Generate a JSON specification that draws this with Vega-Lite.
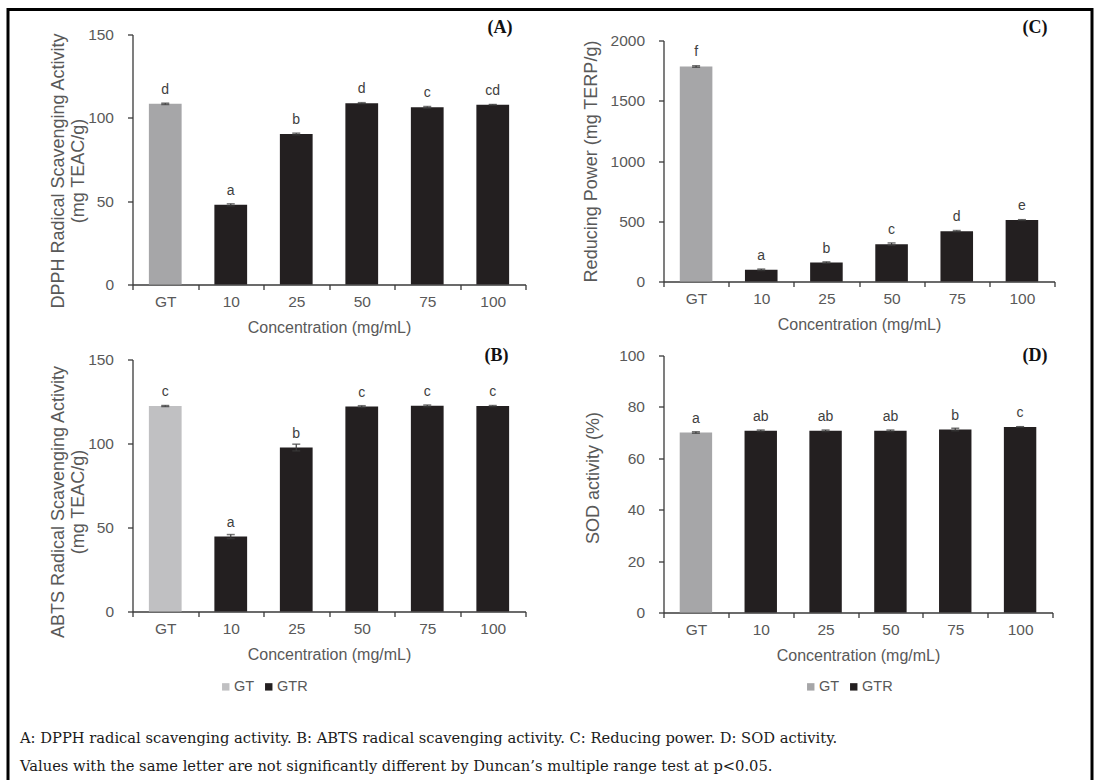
{
"$schema": "https://vega.github.io/schema/vega-lite/v6.json",
"background": "white",
"padding": {"left": 6, "top": 7.5, "right": 0, "bottom": 0},
"config": {
 "font": "Liberation Sans",
 "view": {"stroke": null},
 "axis": {"grid": false, "domainColor": "#3a3a3a", "tickColor": "#3a3a3a", "domainWidth": 1.3, "tickWidth": 1.3, "tickSize": 5, "labelColor": "#595959", "titleColor": "#595959", "titleFontWeight": "normal", "labelFontSize": 15.5, "titleFontSize": 16},
 "legend": {"direction": "horizontal", "symbolType": "square", "symbolSize": 55, "symbolStrokeWidth": 0, "labelFontSize": 14.5, "labelColor": "#595959", "columnPadding": 7, "labelOffset": 1}
},
"datasets": {
 "dA": [
  {"c": "GT", "g": "GT", "v": 108.4, "e": 0.4, "l": "d"},
  {"c": "10", "g": "GTR", "v": 47.8, "e": 0.6, "l": "a"},
  {"c": "25", "g": "GTR", "v": 90.3, "e": 0.5, "l": "b"},
  {"c": "50", "g": "GTR", "v": 108.8, "e": 0.3, "l": "d"},
  {"c": "75", "g": "GTR", "v": 106.3, "e": 0.5, "l": "c"},
  {"c": "100", "g": "GTR", "v": 107.8, "e": 0.2, "l": "cd"}
 ],
 "dB": [
  {"c": "GT", "g": "GT", "v": 122.3, "e": 0.3, "l": "c"},
  {"c": "10", "g": "GTR", "v": 44.6, "e": 1.2, "l": "a"},
  {"c": "25", "g": "GTR", "v": 97.6, "e": 2.0, "l": "b"},
  {"c": "50", "g": "GTR", "v": 122.0, "e": 0.5, "l": "c"},
  {"c": "75", "g": "GTR", "v": 122.4, "e": 0.5, "l": "c"},
  {"c": "100", "g": "GTR", "v": 122.3, "e": 0.3, "l": "c"}
 ],
 "dC": [
  {"c": "GT", "g": "GT", "v": 1785, "e": 6, "l": "f"},
  {"c": "10", "g": "GTR", "v": 97, "e": 6, "l": "a"},
  {"c": "25", "g": "GTR", "v": 157, "e": 6, "l": "b"},
  {"c": "50", "g": "GTR", "v": 310, "e": 10, "l": "c"},
  {"c": "75", "g": "GTR", "v": 418, "e": 5, "l": "d"},
  {"c": "100", "g": "GTR", "v": 510, "e": 3, "l": "e"}
 ],
 "dD": [
  {"c": "GT", "g": "GT", "v": 70.0, "e": 0.3, "l": "a"},
  {"c": "10", "g": "GTR", "v": 70.7, "e": 0.3, "l": "ab"},
  {"c": "25", "g": "GTR", "v": 70.7, "e": 0.3, "l": "ab"},
  {"c": "50", "g": "GTR", "v": 70.7, "e": 0.3, "l": "ab"},
  {"c": "75", "g": "GTR", "v": 71.2, "e": 0.5, "l": "b"},
  {"c": "100", "g": "GTR", "v": 72.2, "e": 0.1, "l": "c"}
 ]
},
"columns": 1,
"align": "none",
"bounds": "flush",
"spacing": -749,
"resolve": {"scale": {"color": "independent"}, "legend": {"color": "independent"}},
"concat": [
 {
  "width": 1084, "height": 774,
  "view": {"stroke": "#000000", "strokeWidth": 3},
  "data": {"values": []},
  "mark": {"type": "text"},
  "encoding": {},
  "title": {
   "text": ["A: DPPH radical scavenging activity. B: ABTS radical scavenging activity. C: Reducing power. D: SOD activity.", "Values with the same letter are not significantly different by Duncan’s multiple range test at p<0.05."],
   "orient": "bottom", "anchor": "start", "frame": "group", "offset": -53, "dx": 12,
   "font": "DejaVu Serif", "fontSize": 14.7, "fontWeight": "normal", "color": "#1a1a1a", "lineHeight": 28
  }
 },
 {
  "bounds": "flush",
  "spacing": 123.5,
  "resolve": {"scale": {"color": "independent"}, "legend": {"color": "independent"}},
  "hconcat": [
   {"width": 1, "height": 1, "data": {"values": []}, "mark": {"type": "text"}, "encoding": {}},
   {
    "spacing": 55,
    "resolve": {"scale": {"color": "independent"}, "legend": {"color": "independent"}},
    "hconcat": [
     {
      "bounds": "flush",
      "spacing": 75,
      "resolve": {"scale": {"color": "independent"}, "legend": {"color": "independent"}},
      "vconcat": [
       {
        "width": 393, "height": 250,
        "title": {"text": "(A)", "anchor": "end", "frame": "group", "orient": "top", "offset": -9, "dx": -13, "font": "Liberation Serif", "fontWeight": "bold", "fontSize": 18, "color": "#111111"},
        "data": {"name": "dA"},
        "encoding": {
         "x": {"field": "c", "type": "nominal", "scale": {"domain": ["GT", "10", "25", "50", "75", "100"], "paddingInner": 0, "paddingOuter": 0},
               "axis": {"title": "Concentration (mg/mL)", "labelAngle": 0, "tickBand": "extent", "labelPadding": 5, "titlePadding": 9}},
         "y": {"field": "v", "type": "quantitative", "scale": {"domain": [0, 150], "nice": false},
               "axis": {"title": ["DPPH Radical Scavenging Activity", "(mg TEAC/g)"], "values": [0, 50, 100, 150], "format": "d", "labelPadding": 14, "titlePadding": 0, "titleFontSize": 18, "titleLineHeight": 20, "titleY": 136}}
        },
        "layer": [
         {"mark": {"type": "bar", "width": {"band": 0.5}},
          "encoding": {"color": {"field": "g", "type": "nominal", "scale": {"domain": ["GT", "GTR"], "range": ["#a6a6a8", "#231f20"]}, "legend": null}}},
         {"mark": {"type": "errorbar", "color": "#3a3a3a", "thickness": 1.2, "ticks": {"size": 8, "thickness": 1.5}},
          "encoding": {"yError": {"field": "e"}}},
         {"mark": {"type": "text", "baseline": "alphabetic", "dy": -10, "fontSize": 14, "color": "#404040"},
          "encoding": {"text": {"field": "l"}}}
        ]
       },
       {
        "width": 393, "height": 252,
        "title": {"text": "(B)", "anchor": "end", "frame": "group", "orient": "top", "offset": -12, "dx": -17, "font": "Liberation Serif", "fontWeight": "bold", "fontSize": 18, "color": "#111111"},
        "data": {"name": "dB"},
        "encoding": {
         "x": {"field": "c", "type": "nominal", "scale": {"domain": ["GT", "10", "25", "50", "75", "100"], "paddingInner": 0, "paddingOuter": 0},
               "axis": {"title": "Concentration (mg/mL)", "labelAngle": 0, "tickBand": "extent", "labelPadding": 5, "titlePadding": 9}},
         "y": {"field": "v", "type": "quantitative", "scale": {"domain": [0, 150], "nice": false},
               "axis": {"title": ["ABTS Radical Scavenging Activity", "(mg TEAC/g)"], "values": [0, 50, 100, 150], "format": "d", "labelPadding": 14, "titlePadding": 0, "titleFontSize": 18, "titleLineHeight": 20, "titleY": 142}}
        },
        "layer": [
         {"mark": {"type": "bar", "width": {"band": 0.5}},
          "encoding": {"color": {"field": "g", "type": "nominal", "scale": {"domain": ["GT", "GTR"], "range": ["#c0c0c2", "#231f20"]},
                                 "legend": {"orient": "none", "legendX": 86, "legendY": 320, "title": null, "direction": "horizontal"}}}},
         {"mark": {"type": "errorbar", "color": "#3a3a3a", "thickness": 1.2, "ticks": {"size": 8, "thickness": 1.5}},
          "encoding": {"yError": {"field": "e"}}},
         {"mark": {"type": "text", "baseline": "alphabetic", "dy": -10, "fontSize": 14, "color": "#404040"},
          "encoding": {"text": {"field": "l"}}}
        ]
       }
      ]
     },
     {
      "bounds": "flush",
      "spacing": 5,
      "resolve": {"scale": {"color": "independent"}, "legend": {"color": "independent"}},
      "vconcat": [
       {"width": 1, "height": 1, "data": {"values": []}, "mark": {"type": "text"}, "encoding": {}},
       {
        "bounds": "flush",
        "spacing": 74,
        "resolve": {"scale": {"color": "independent"}, "legend": {"color": "independent"}},
        "vconcat": [
         {
          "width": 391, "height": 241,
          "title": {"text": "(C)", "anchor": "end", "frame": "group", "orient": "top", "offset": -3, "dx": -7, "font": "Liberation Serif", "fontWeight": "bold", "fontSize": 18, "color": "#111111"},
          "data": {"name": "dC"},
          "encoding": {
           "x": {"field": "c", "type": "nominal", "scale": {"domain": ["GT", "10", "25", "50", "75", "100"], "paddingInner": 0, "paddingOuter": 0},
                 "axis": {"title": "Concentration (mg/mL)", "labelAngle": 0, "tickBand": "extent", "labelPadding": 5, "titlePadding": 9}},
           "y": {"field": "v", "type": "quantitative", "scale": {"domain": [0, 2000], "nice": false},
                 "axis": {"title": "Reducing Power (mg TERP/g)", "values": [0, 500, 1000, 1500, 2000], "format": "d", "labelPadding": 14, "titlePadding": 10, "titleFontSize": 18}}
          },
          "layer": [
           {"mark": {"type": "bar", "width": {"band": 0.5}},
            "encoding": {"color": {"field": "g", "type": "nominal", "scale": {"domain": ["GT", "GTR"], "range": ["#a6a6a8", "#231f20"]}, "legend": null}}},
           {"mark": {"type": "errorbar", "color": "#3a3a3a", "thickness": 1.2, "ticks": {"size": 8, "thickness": 1.5}},
            "encoding": {"yError": {"field": "e"}}},
           {"mark": {"type": "text", "baseline": "alphabetic", "dy": -10, "fontSize": 14, "color": "#404040"},
            "encoding": {"text": {"field": "l"}}}
          ]
         },
         {
          "width": 389, "height": 257,
          "title": {"text": "(D)", "anchor": "end", "frame": "group", "orient": "top", "offset": -16, "dx": -5, "font": "Liberation Serif", "fontWeight": "bold", "fontSize": 18, "color": "#111111"},
          "data": {"name": "dD"},
          "encoding": {
           "x": {"field": "c", "type": "nominal", "scale": {"domain": ["GT", "10", "25", "50", "75", "100"], "paddingInner": 0, "paddingOuter": 0},
                 "axis": {"title": "Concentration (mg/mL)", "labelAngle": 0, "tickBand": "extent", "labelPadding": 5, "titlePadding": 9}},
           "y": {"field": "v", "type": "quantitative", "scale": {"domain": [0, 100], "nice": false},
                 "axis": {"title": "SOD activity (%)", "values": [0, 20, 40, 60, 80, 100], "format": "d", "labelPadding": 14, "titlePadding": 16, "titleFontSize": 18, "titleY": 122}}
          },
          "layer": [
           {"mark": {"type": "bar", "width": {"band": 0.5}},
            "encoding": {"color": {"field": "g", "type": "nominal", "scale": {"domain": ["GT", "GTR"], "range": ["#a6a6a8", "#231f20"]},
                                   "legend": {"orient": "none", "legendX": 140, "legendY": 324, "title": null, "direction": "horizontal"}}}},
           {"mark": {"type": "errorbar", "color": "#3a3a3a", "thickness": 1.2, "ticks": {"size": 8, "thickness": 1.5}},
            "encoding": {"yError": {"field": "e"}}},
           {"mark": {"type": "text", "baseline": "alphabetic", "dy": -10, "fontSize": 14, "color": "#404040"},
            "encoding": {"text": {"field": "l"}}}
          ]
         }
        ]
       }
      ]
     }
    ]
   }
  ]
 }
]
}
